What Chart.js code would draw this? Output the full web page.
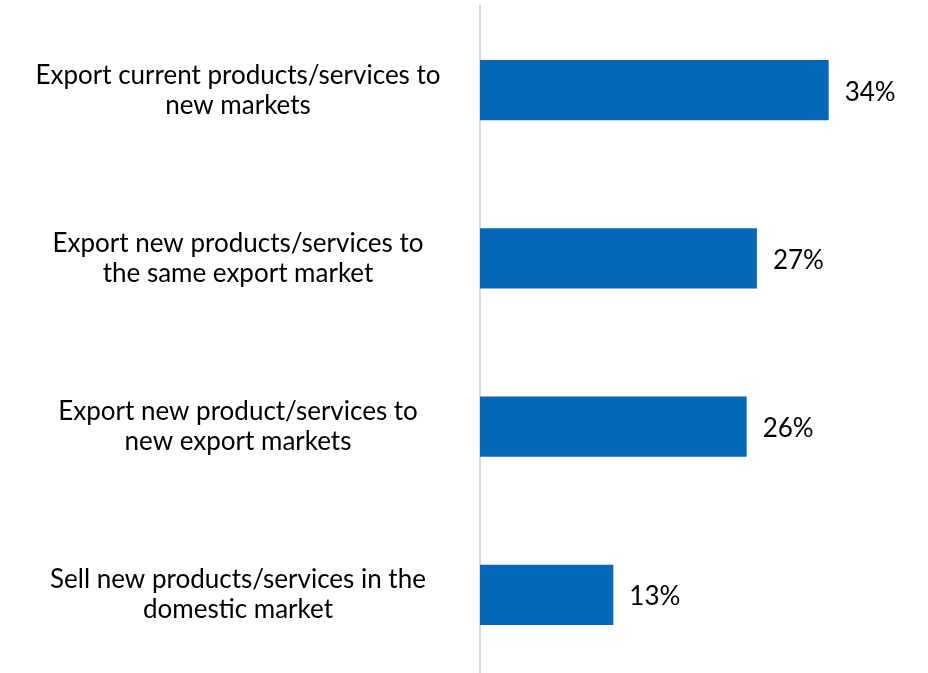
<!DOCTYPE html>
<html>
<head>
<meta charset="utf-8">
<script src="https://cdn.jsdelivr.net/npm/chart.js@4"></script>
<style>
  html, body { margin: 0; padding: 0; background: #fff; overflow: hidden; height: 673px; }
  canvas { display: block; }
</style>
</head>
<body>
<canvas id="chart" width="928" height="680"></canvas>
<script>
const categories = [
  ["Export current products/services to", "new markets"],
  ["Export new products/services to", "the same export market"],
  ["Export new product/services to", "new export markets"],
  ["Sell new products/services in the", "domestic market"]
];
const shares = [34, 27, 26, 13];
const valueLabels = ["34%", "27%", "26%", "13%"];

const FONT = "26px Lato, 'Open Sans', sans-serif";

// category text to the left of the axis, percentages after each bar
const labelPlugin = {
  id: "labels",
  afterDatasetsDraw(chart) {
    const c = chart.ctx;
    const y = chart.scales.y;
    const x = chart.scales.x;
    c.save();
    c.font = FONT;
    c.fillStyle = "#000";
    c.textBaseline = "middle";
    categories.forEach((lines, i) => {
      const cy = y.getPixelForValue(i);
      c.textAlign = "center";
      lines.forEach((ln, j) => {
        c.fillText(ln, 238, cy + (j - (lines.length - 1) / 2) * 30);
      });
      c.textAlign = "left";
      c.fillText(valueLabels[i], x.getPixelForValue(shares[i]) + 16, cy + 2);
    });
    c.restore();
  }
};

new Chart(document.getElementById("chart"), {
  type: "bar",
  data: {
    labels: categories,
    datasets: [{
      data: shares,
      backgroundColor: "#0567b9",
      barPercentage: 0.357,
      categoryPercentage: 1
    }]
  },
  options: {
    indexAxis: "y",
    responsive: false,
    animation: false,
    layout: { padding: { top: 6, bottom: 1, right: 7, left: 0 } },
    plugins: { legend: { display: false }, tooltip: { enabled: false } },
    scales: {
      x: { display: false, min: 0, max: 43 },
      y: {
        afterFit(scale) { scale.width = 480; },
        ticks: { display: false },
        grid: { display: false },
        border: { display: true, color: "#d9d9d9", width: 2 }
      }
    }
  },
  plugins: [labelPlugin]
});
</script>
</body>
</html>
